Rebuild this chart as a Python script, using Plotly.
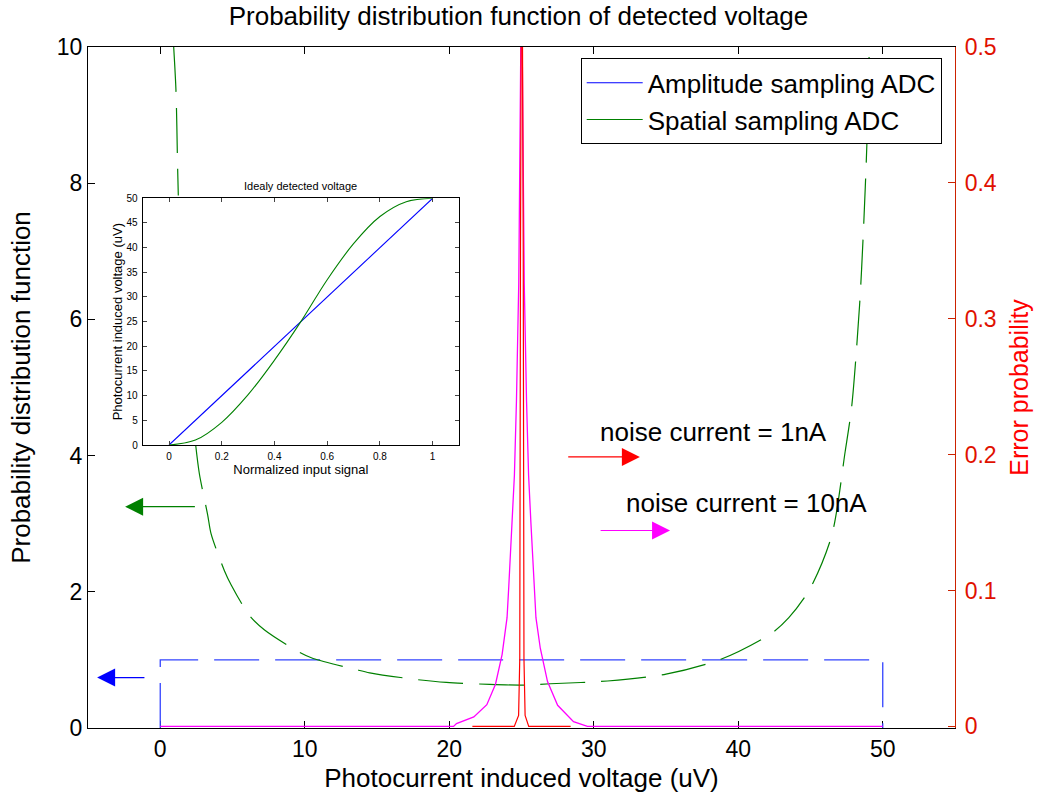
import plotly.graph_objects as go

FONT = "Liberation Sans, Arial, sans-serif"

# ---------------- data ----------------
# Main plot, left axis: probability distribution function
amp_x = [0, 0, 50, 50]
amp_y = [0, 1, 1, 0]

spat_x = [0.93, 1.09, 1.20, 1.25, None, 2.45, 2.71, 3.29, 3.52, 4.44, 4.91, 6.18,
          7.22, 9.65, 10.58, 13.5, 14.5, 17.4, 19.8, 22.8, 25.0, 27.0, 30.95, 35.0,
          38.8, 42.3, 43.5, 44.95, 46.46, 47.4, 47.85, 48.4, 48.66, 48.9, 49.07]
spat_y = [10.0, 9.35, 8.25, 7.82, None, 4.16, 3.73, 3.12, 2.85, 2.31, 2.10, 1.65,
          1.44, 1.11, 1.02, 0.86, 0.81, 0.72, 0.67, 0.64, 0.63, 0.65, 0.69, 0.79,
          1.01, 1.39, 1.62, 2.04, 2.82, 4.06, 4.72, 6.22, 7.29, 8.56, 10.0]

# Main plot, right axis: error probability
n10_x = [0, 19.4, 20.3, 20.5, 21.7, 22.6, 23.2, 23.66, 24.0, 24.12, 24.35, 24.51,
         24.65, 24.81, 24.95, 25.0, 25.05, 25.19, 25.35, 25.49, 25.65, 25.88, 26.0,
         26.3, 26.8, 27.5, 28.6, 29.56, 50]
n10_y = [0, 0, 0, 0.002, 0.007, 0.016, 0.031, 0.053, 0.08, 0.103, 0.15, 0.185,
         0.239, 0.326, 0.5, 0.6, 0.5, 0.326, 0.239, 0.185, 0.15, 0.103, 0.08,
         0.0575, 0.033, 0.0155, 0.0035, 0, 0]

n1_x = [21.6, 24.5, 24.8, 24.88, 24.93, 25.02, 25.12, 25.17, 25.25, 25.5, 28.4]
n1_y = [0, 0, 0.008, 0.05, 0.35, 0.65, 0.35, 0.05, 0.008, 0, 0]

# Inset: ideally detected voltage
ins_x_amp = [0, 1]
ins_y_amp = [0, 50]
ins_x_spat = [0, 0.1, 0.2, 0.3, 0.4, 0.5, 0.6, 0.7, 0.8, 0.9, 1.0]
ins_y_spat = [0, 1.0, 4.6, 10.2, 17.2, 25, 33.5, 40.8, 46.3, 49.3, 50]

# Tick labels
x_ticks = [0, 10, 20, 30, 40, 50]
yl_ticks = [0, 2, 4, 6, 8, 10]
yr_ticks = [0, 0.1, 0.2, 0.3, 0.4, 0.5]
ins_xticks = [0, 0.2, 0.4, 0.6, 0.8, 1]
ins_yticks = [0, 5, 10, 15, 20, 25, 30, 35, 40, 45, 50]

# Arrows: (tail_x, tail_y, tip_x, tip_y, colour)
arrows = [
    (2.5, 3.25, -2.43, 3.25, "#008000"),
    (-0.99, 0.74, -4.37, 0.74, "#0000ff"),
    (28.13, 3.98, 33.19, 3.98, "#ff0000"),
    (30.37, 2.90, 35.28, 2.90, "#ff00ff"),
]
labels = [
    (30.26, 4.34, "noise current = 1nA"),
    (32.06, 3.31, "noise current = 10nA"),
]

# ---------------- figure ----------------
fig = go.Figure()

fig.add_trace(go.Scatter(x=amp_x, y=amp_y, mode="lines", xaxis="x", yaxis="y",
                         line=dict(color="#3344ff", width=1.3, dash="45px,16px"),
                         showlegend=False, hoverinfo="skip"))
fig.add_trace(go.Scatter(x=spat_x, y=spat_y, mode="lines", xaxis="x", yaxis="y",
                         line=dict(color="#008000", width=1.2, dash="45px,16px",
                                   shape="spline", smoothing=0.8),
                         showlegend=False, hoverinfo="skip"))
fig.add_trace(go.Scatter(x=n10_x, y=n10_y, mode="lines", xaxis="x", yaxis="y3",
                         line=dict(color="#ff00ff", width=1.3),
                         showlegend=False, hoverinfo="skip"))
fig.add_trace(go.Scatter(x=n1_x, y=n1_y, mode="lines", xaxis="x", yaxis="y3",
                         line=dict(color="#ff0000", width=1.2),
                         showlegend=False, hoverinfo="skip"))

# inset traces (also provide the legend entries)
fig.add_trace(go.Scatter(x=ins_x_amp, y=ins_y_amp, mode="lines", xaxis="x2", yaxis="y2",
                         line=dict(color="#0000ff", width=1.1),
                         name="Amplitude sampling ADC"))
fig.add_trace(go.Scatter(x=ins_x_spat, y=ins_y_spat, mode="lines", xaxis="x2", yaxis="y2",
                         line=dict(color="#008000", width=1.1, shape="spline"),
                         name="Spatial sampling ADC"))

W, H = 1037, 801
L, R, T, B = 88, 82, 47, 73
pw, ph = W - L - R, H - T - B


def px_x(p):
    return (p - L) / pw


def px_y(p):
    return (H - B - p) / ph


ann = []
for tx, ty, hx, hy, c in arrows:
    ann.append(dict(x=hx, y=hy, ax=tx, ay=ty, xref="x", yref="y", axref="x", ayref="y",
                    text="", showarrow=True, arrowhead=2, arrowsize=3.0, arrowwidth=1.2,
                    arrowcolor=c))
for lx, ly, t in labels:
    ann.append(dict(x=lx, y=ly, xref="x", yref="y", text=t, showarrow=False,
                    xanchor="left", yanchor="middle",
                    font=dict(family=FONT, size=26, color="black")))
# inset title
ann.append(dict(x=0.5, y=px_y(186), xref="x2 domain", yref="paper",
                text="Idealy detected voltage", showarrow=False,
                xanchor="center", yanchor="middle",
                font=dict(family=FONT, size=11, color="black")))

axis_common = dict(showgrid=False, zeroline=False, showline=True, linecolor="black",
                   linewidth=1.2, ticks="inside", ticklen=7, tickcolor="black",
                   automargin=False)

fig.update_layout(
    template="none",
    width=W, height=H, autosize=False,
    margin=dict(l=L, r=R, t=T, b=B, pad=0),
    paper_bgcolor="white", plot_bgcolor="white",
    font=dict(family=FONT, color="black"),
    title=dict(text="Probability distribution function of detected voltage",
               x=0.5, xanchor="center", y=1 - 16 / H, yanchor="middle",
               yref="container", font=dict(family=FONT, size=26, color="black")),
    xaxis=dict(domain=[0, 1], range=[-5, 55], tickvals=x_ticks, mirror="ticks",
               layer="below traces",
               tickfont=dict(family=FONT, size=23), ticklabelstandoff=0,
               title=dict(text="Photocurrent induced voltage (uV)", standoff=8,
                          font=dict(family=FONT, size=26)),
               anchor="y", **axis_common),
    yaxis=dict(domain=[0, 1], range=[0, 10], tickvals=yl_ticks, mirror=False,
               tickfont=dict(family=FONT, size=23), ticklabelstandoff=0,
               title=dict(text="Probability distribution function", standoff=18,
                          font=dict(family=FONT, size=26)),
               anchor="x", **axis_common),
    yaxis3=dict(overlaying="y", side="right", anchor="x", range=[-0.0012, 0.5],
                tickvals=yr_ticks, showgrid=False, zeroline=False, showline=True,
                linecolor="#cc2200", linewidth=1.2, ticks="inside", ticklen=7,
                tickcolor="#cc2200", color="#e01000", automargin=False,
                tickfont=dict(family=FONT, size=23, color="#e01000"),
                ticklabelstandoff=4,
                title=dict(text="Error probability", standoff=14,
                           font=dict(family=FONT, size=25, color="#ff0000"))),
    xaxis2=dict(domain=[px_x(142.7), px_x(459)], range=[-0.1, 1.1], tickvals=ins_xticks,
                anchor="y2", mirror="ticks", showgrid=False, zeroline=False, showline=True,
                linecolor="black", linewidth=1, ticks="inside", ticklen=4, automargin=False,
                tickfont=dict(family=FONT, size=10), ticklabelstandoff=2,
                title=dict(text="Normalized input signal", standoff=1,
                           font=dict(family=FONT, size=13))),
    yaxis2=dict(domain=[px_y(445), px_y(198.3)], range=[0, 50], tickvals=ins_yticks,
                anchor="x2", mirror="ticks", showgrid=False, zeroline=False, showline=True,
                linecolor="black", linewidth=1, ticks="inside", ticklen=4, automargin=False,
                tickfont=dict(family=FONT, size=10), ticklabelstandoff=2,
                title=dict(text="Photocurrent induced voltage (uV)", standoff=1,
                           font=dict(family=FONT, size=13))),
    legend=dict(x=px_x(941.7), y=px_y(58.3), xanchor="right", yanchor="top",
                bgcolor="white", bordercolor="black", borderwidth=1,
                font=dict(family=FONT, size=26), itemwidth=56, tracegroupgap=0),
    annotations=ann,
)

fig.write_html("out.html")
